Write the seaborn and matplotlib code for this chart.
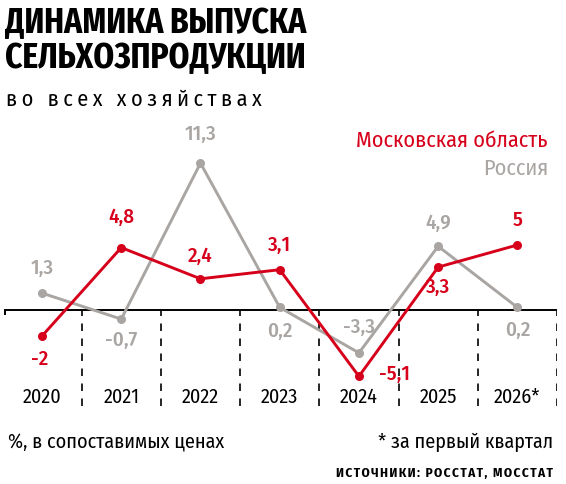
import pandas as pd
import matplotlib
matplotlib.use("Agg")
from matplotlib import pyplot as plt
from matplotlib import font_manager
import seaborn as sns

# data
years = ["2020", "2021", "2022", "2023", "2024", "2025", "2026*"]
moscow = [-2, 4.8, 2.4, 3.1, -5.1, 3.3, 5]
russia = [1.3, -0.7, 11.3, 0.2, -3.3, 4.9, 0.2]
series_names = ["Московская область", "Россия"]

# label offsets in pixels (dx, dy), positive dy = up
moscow_offsets = [(-2, -23), (0, 30), (0, 22), (0, 24), (36, 2), (0, -20), (0, 25)]
russia_offsets = [(0, 25), (0, -21), (0, 29), (0, -24), (0, 26), (0, 23), (0, -23)]

RED = "#d7001b"
GRAY = "#a9a5a3"

sns.set_theme(style="white")
names = set(f.name for f in font_manager.fontManager.ttflist)
main_font = "DejaVu Sans"
for cand in ["Fira Sans Condensed", "Roboto Condensed", "PT Sans Narrow",
             "Liberation Sans Narrow", "Open Sans Condensed"]:
    if cand in names:
        main_font = cand
        break
title_font = "Fira Sans Extra Condensed" if "Fira Sans Extra Condensed" in names else main_font
plt.rcParams["font.family"] = [main_font, "DejaVu Sans"]

W, H = 566, 484
fig = plt.figure(figsize=(W / 100, H / 100), dpi=100)
fig.patch.set_facecolor("white")


def fx(x):
    return x / W


def fy(y):
    return 1 - y / H


# axes: x from 4 to 557 px, y from 150 to 406 px, zero at 310, 13 px per unit
ax_top, ax_bot, zero_px, unit = 150, 406, 310, 13.0
ax = fig.add_axes([fx(4), fy(ax_bot), (557 - 4) / W, (ax_bot - ax_top) / H])
ax.set_xlim(-0.48, 6.5)
ax.set_ylim(-(ax_bot - zero_px) / unit, (zero_px - ax_top) / unit)
ax.axis("off")

df = pd.DataFrame({
    "x": list(range(len(years))) * 2,
    "value": moscow + russia,
    "series": [series_names[0]] * len(years) + [series_names[1]] * len(years),
})

# separators and zero line
ymin = ax.get_ylim()[0]
for i in range(len(years)):
    ax.vlines(i + 0.5, ymin, 0, colors="black", linewidth=1.2,
              linestyles=(0, (4.5, 4.5)), zorder=1)
ax.plot([-0.48, 6.5], [0, 0], color="black", linewidth=1.4, zorder=1,
        solid_capstyle="butt")
ax.vlines(-0.465, -0.4, 0, colors="black", linewidth=1.4, zorder=1)

sns.lineplot(data=df, x="x", y="value", hue="series",
             hue_order=[series_names[1], series_names[0]],
             palette={series_names[0]: RED, series_names[1]: GRAY},
             marker="o", markersize=6.5, markeredgewidth=0, linewidth=2.1,
             legend=False, ax=ax, zorder=3)


def fmt(v):
    return f"{v:g}".replace(".", ",")


for i, v in enumerate(russia):
    dx, dy = russia_offsets[i]
    ax.annotate(fmt(v), (i, v), xytext=(dx, dy), textcoords="offset pixels",
                ha="center", va="center", fontsize=15, color=GRAY,
                fontweight="medium", zorder=4)
for i, v in enumerate(moscow):
    dx, dy = moscow_offsets[i]
    ax.annotate(fmt(v), (i, v), xytext=(dx, dy), textcoords="offset pixels",
                ha="center", va="center", fontsize=15, color=RED,
                fontweight="medium", zorder=4)

# year labels
for i, yr in enumerate(years):
    ax.text(i, -(397 - zero_px) / unit, yr, ha="center", va="center",
            fontsize=14.5, color="black")

# titles
title_kw = dict(fontsize=26, fontweight="bold", color="black",
                va="baseline", ha="left", family=[title_font, "DejaVu Sans"])
fig.text(fx(5), fy(33), "ДИНАМИКА ВЫПУСКА", **title_kw)
fig.text(fx(5), fy(68), "СЕЛЬХОЗПРОДУКЦИИ", **title_kw)
fig.text(fx(6), fy(106), "\u2009".join("во всех хозяйствах"), fontsize=16,
         color="black", va="baseline", ha="left")

# legend labels
fig.text(fx(548), fy(147), series_names[0], fontsize=16, color=RED,
         ha="right", va="baseline")
fig.text(fx(548), fy(175), series_names[1], fontsize=16, color=GRAY,
         ha="right", va="baseline")

# footer
fig.text(fx(8), fy(448), "%, в сопоставимых ценах", fontsize=14.5,
         color="black", ha="left", va="baseline")
fig.text(fx(553), fy(448), "* за первый квартал", fontsize=14.5,
         color="black", ha="right", va="baseline")
fig.text(fx(553), fy(477), "\u200a".join("ИСТОЧНИКИ: РОССТАТ, МОССТАТ"),
         fontsize=9.5, fontweight="bold", color="black", ha="right",
         va="baseline")

fig.savefig("out.png", dpi=100, facecolor="white")
